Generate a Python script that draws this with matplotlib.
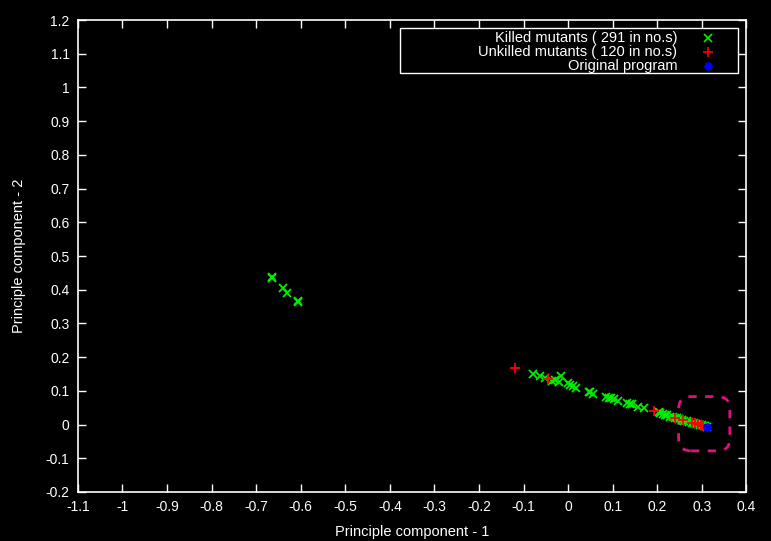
import matplotlib
matplotlib.use("Agg")
import matplotlib.pyplot as plt
from matplotlib.patches import FancyBboxPatch, Rectangle
from matplotlib import font_manager

fams = {f.name for f in font_manager.fontManager.ttflist}
FONT = "Liberation Sans Narrow" if "Liberation Sans Narrow" in fams else "Liberation Sans"
plt.rcParams['font.family'] = [FONT, 'DejaVu Sans']

# Killed mutants (green x)
killed_x = [-0.665, -0.640, -0.630, -0.605, -0.605, -0.665,
            -0.078, -0.064, -0.051, -0.036, -0.021, -0.016, -0.030,
            0.000, 0.005, 0.010, 0.018, 0.046, 0.050, 0.057,
            0.085, 0.091, 0.097, 0.102, 0.113, 0.132, 0.138, 0.143,
            0.158, 0.170, 0.205, 0.207, 0.212, 0.218, 0.222, 0.229,
            0.235, 0.240, 0.244, 0.250, 0.255, 0.260, 0.267, 0.272,
            0.278, 0.282, 0.287, 0.292, 0.297, 0.300, 0.305, 0.308, 0.312]
killed_y = [0.435, 0.405, 0.390, 0.365, 0.368, 0.438,
            0.149, 0.144, 0.137, 0.130, 0.125, 0.144, 0.132,
            0.122, 0.117, 0.115, 0.107, 0.097, 0.096, 0.092,
            0.083, 0.080, 0.078, 0.075, 0.070, 0.063, 0.062, 0.060,
            0.053, 0.048, 0.036, 0.033, 0.032, 0.028, 0.027, 0.023,
            0.021, 0.020, 0.018, 0.016, 0.014, 0.012, 0.010, 0.008,
            0.006, 0.004, 0.003, 0.001, -0.001, -0.002, -0.003, -0.004, -0.006]

# Unkilled mutants (red +)
unkilled_x = [-0.120, -0.044, 0.192, 0.239, 0.258, 0.278, 0.285, 0.292, 0.298, 0.303]
unkilled_y = [0.168, 0.134, 0.040, 0.020, 0.013, 0.006, 0.004, 0.001, -0.001, -0.003]

# Original program (blue *)
orig_x = [0.312]
orig_y = [-0.008]

xticks = [round(-1.1 + 0.1 * i, 1) for i in range(16)]
yticks = [round(-0.2 + 0.1 * i, 1) for i in range(15)]

fig = plt.figure(figsize=(7.71, 5.41), dpi=100, facecolor='black')
ax = fig.add_axes([0.101, 0.0906, 0.867, 0.8724], facecolor='black')

ax.plot(killed_x, killed_y, linestyle='none', marker='x', color='#00ee00',
        markersize=6, markeredgewidth=1.3)
ax.plot(unkilled_x, unkilled_y, linestyle='none', marker='+', color='#ff0000',
        markersize=7, markeredgewidth=1.3)
ax.plot(orig_x, orig_y, linestyle='none', marker=(8, 2, 0), color='#0000ff',
        markersize=6, markeredgewidth=1.3)

ax.set_xlim(-1.1, 0.4)
ax.set_ylim(-0.2, 1.2)
ax.set_xticks(xticks)
ax.set_yticks(yticks)
ax.set_xticklabels([("%g" % t) for t in xticks])
ax.set_yticklabels([("%g" % t) for t in yticks])

for s in ax.spines.values():
    s.set_color('white')
    s.set_linewidth(1.2)
ax.tick_params(direction='in', length=6, width=1, colors='white',
               top=True, right=True, labelsize=10, pad=6)
ax.set_xlabel('Principle component - 1', color='white', fontsize=10.5, labelpad=8)
ax.set_ylabel('Principle component - 2', color='white', fontsize=10.5, labelpad=14)

# highlighted region (dashed rounded box)
box = FancyBboxPatch((0.248, -0.078), 0.115, 0.161,
                     boxstyle="round,pad=0,rounding_size=0.028",
                     mutation_aspect=1.321, transform=ax.transData,
                     fill=False, edgecolor='#e0107f', linewidth=2,
                     linestyle=(0, (3, 3)))
ax.add_patch(box)

# legend (gnuplot style)
ax.add_patch(Rectangle((0.482, 0.888), 0.506, 0.095, transform=ax.transAxes,
                       fill=False, edgecolor='white', linewidth=1, zorder=5))
labels = ['Killed mutants ( 291 in no.s)', 'Unkilled mutants ( 120 in no.s)', 'Original program']
rows = [0.962, 0.932, 0.903]
styles = [('x', '#00ee00', 6), ('+', '#ff0000', 7), ((8, 2, 0), '#0000ff', 6)]
for lab, yy, (mk, col, ms) in zip(labels, rows, styles):
    ax.text(0.897, yy, lab, transform=ax.transAxes, ha='right', va='center',
            color='white', fontsize=10.5)
    ax.plot([0.942], [yy], transform=ax.transAxes, marker=mk, color=col,
            markersize=ms, markeredgewidth=1.2, linestyle='none', clip_on=False)

fig.savefig('out.png', dpi=100, facecolor='black')
